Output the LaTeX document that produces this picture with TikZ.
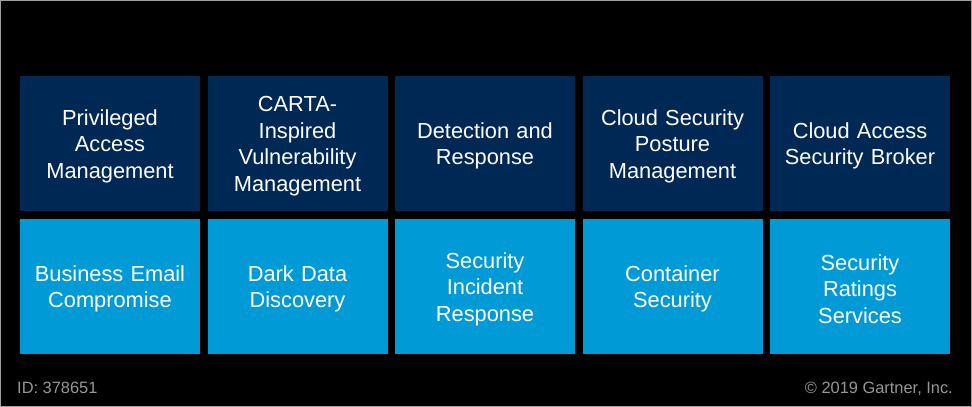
\documentclass[tikz,border=0pt]{standalone}
\usepackage{fontspec}
\setmainfont{Liberation Sans}
\definecolor{navy}{RGB}{0,40,85}
\definecolor{sky}{RGB}{0,155,214}
\definecolor{foot}{RGB}{150,150,150}
\definecolor{frame}{RGB}{160,160,160}
\begin{document}
\begin{tikzpicture}[x=1pt,y=-1pt,
  tile/.style={minimum width=180pt,minimum height=135pt,inner sep=0pt},
  toptile/.style={tile,fill=navy},
  bottile/.style={tile,fill=sky},
  lbl/.style={inner sep=0pt,text width=176pt,align=center,text=white,font=\fontsize{21.8}{26.5}\selectfont},
  foottext/.style={inner sep=0pt,text=foot,font=\fontsize{16.4}{19}\selectfont}]
\useasboundingbox (0,0) rectangle (972,407);
\fill[black] (0,0) rectangle (972,407);
\draw[frame,line width=1pt] (0.5,0.5) rectangle (971.5,406.5);
\node[toptile] (t1) at (110,143.5) {};
\node[toptile] (t2) at (297.5,143.5) {};
\node[toptile] (t3) at (485,143.5) {};
\node[toptile] (t4) at (672.5,143.5) {};
\node[toptile] (t5) at (860,143.5) {};
\node[bottile] (b1) at (110,286.5) {};
\node[bottile] (b2) at (297.5,286.5) {};
\node[bottile] (b3) at (485,286.5) {};
\node[bottile] (b4) at (672.5,286.5) {};
\node[bottile] (b5) at (860,286.5) {};
\node[lbl] (t1l) at ([yshift=-2.5pt]t1.center) {Privileged\\Access\\Management};
\node[lbl] (t2l) at ([yshift=-2.5pt]t2.center) {CARTA-\\Inspired\\Vulnerability\\Management};
\node[lbl] (t3l) at ([yshift=-2.5pt]t3.center) {Detection and\\Response};
\node[lbl] (t4l) at ([yshift=-2.5pt]t4.center) {Cloud Security\\Posture\\Management};
\node[lbl] (t5l) at ([yshift=-2.5pt]t5.center) {Cloud Access\\Security Broker};
\node[lbl] (b1l) at ([yshift=-2.5pt]b1.center) {Business Email\\Compromise};
\node[lbl] (b2l) at ([yshift=-2.5pt]b2.center) {Dark Data\\Discovery};
\node[lbl] (b3l) at ([yshift=-2.5pt]b3.center) {Security\\Incident\\Response};
\node[lbl] (b4l) at ([yshift=-2.5pt]b4.center) {Container\\Security};
\node[lbl] (b5l) at ([yshift=-2.5pt]b5.center) {Security\\Ratings\\Services};
\node[foottext,anchor=base west] (id) at (17,393) {ID: 378651};
\node[foottext,anchor=base east] (copy) at (953,393) {© 2019 Gartner, Inc.};
\end{tikzpicture}
\end{document}
